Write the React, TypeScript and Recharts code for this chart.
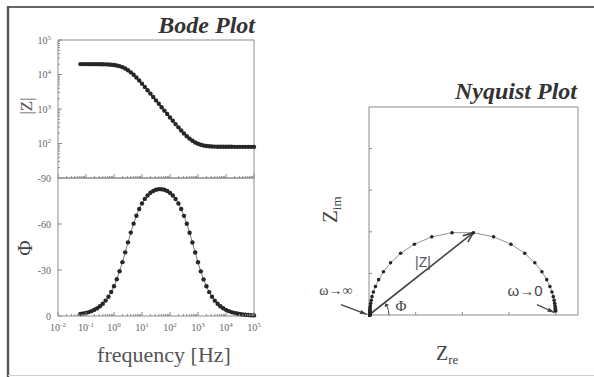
import React from "react";
import {
  LineChart,
  Line,
  XAxis,
  YAxis,
  ReferenceArea,
  ReferenceLine,
  ReferenceDot,
} from "recharts";

// values (one RC element, ~80 ohm series, ~20 kohm parallel)
const frequency = [
  0.0631, 0.0794, 0.1, 0.126, 0.158, 0.2, 0.251, 0.316, 0.398, 0.501,
  0.631, 0.794, 1, 1.26, 1.58, 2, 2.51, 3.16, 3.98, 5.01,
  6.31, 7.94, 10, 12.6, 15.8, 20, 25.1, 31.6, 39.8, 50.1,
  63.1, 79.4, 100, 126, 158, 200, 251, 316, 398, 501,
  631, 794, 1000, 1260, 1580, 2000, 2510, 3160, 3980, 5010,
  6310, 7940, 10000, 12600, 15800, 20000, 25100, 31600, 39800, 50100,
  63100, 79400, 100000,
];

const magnitude = [
  19995, 19992, 19987, 19980, 19969, 19950, 19921, 19875, 19803, 19691,
  19517, 19250, 18849, 18261, 17433, 16324, 14931, 13307, 11556, 9803,
  8157, 6688, 5426, 4370, 3503, 2798, 2232, 1777, 1415, 1126,
  896, 714, 569, 455, 365, 294, 238, 195, 163, 138,
  120, 107, 97.9, 91.7, 87.6, 84.8, 83.1, 82.0, 81.2, 80.8,
  80.5, 80.3, 80.2, 80.1, 80.1, 80.0, 80.0, 80.0, 80.0, 80.0,
  80.0, 80.0, 80.0,
];

const phase = [
  -1.28, -1.61, -2.02, -2.55, -3.21, -4.03, -5.07, -6.38, -8.01, -10.04,
  -12.57, -15.68, -19.45, -23.97, -29.22, -35.13, -41.51, -48.03, -54.38, -60.24,
  -65.42, -69.82, -73.45, -76.36, -78.63, -80.34, -81.56, -82.34, -82.72, -82.71,
  -82.33, -81.54, -80.31, -78.59, -76.3, -73.38, -69.74, -65.32, -60.13, -54.25,
  -47.9, -41.37, -35.01, -29.11, -23.87, -19.37, -15.6, -12.51, -10.0, -7.97,
  -6.35, -5.05, -4.01, -3.19, -2.53, -2.01, -1.6, -1.28, -1.01, -0.8,
  -0.64, -0.51, -0.4,
];

const zReal = [
  19990, 19984, 19975, 19960, 19937, 19901, 19843, 19752, 19610, 19389,
  19049, 18534, 17773, 16687, 15214, 13350, 11182, 8898, 6731, 4866,
  3393, 2307, 1546, 1031, 691, 470, 328, 237, 179, 143,
  120, 105, 96, 90, 86, 84, 83, 82, 81, 81,
  80, 80, 80, 80, 80, 80, 80, 80, 80, 80,
  80, 80, 80, 80, 80, 80, 80, 80, 80, 80,
  80, 80, 80,
];

const zImag = [
  446, 561, 706, 888, 1117, 1403, 1761, 2207, 2759, 3434,
  4247, 5201, 6278, 7418, 8511, 9394, 9894, 9894, 9394, 8511,
  7418, 6278, 5201, 4247, 3434, 2759, 2207, 1761, 1403, 1117,
  888, 706, 561, 446, 354, 281, 223, 178, 141, 112,
  89, 71, 56, 45, 35, 28, 22, 18, 14, 11,
  8.9, 7.1, 5.6, 4.5, 3.5, 2.8, 2.2, 1.8, 1.4, 1.1,
  0.9, 0.7, 0.6,
];

// tick labels
const freqExponents = [-2, -1, 0, 1, 2, 3, 4, 5];
const magExponents = [2, 3, 4, 5];
const phaseTicks = [0, -30, -60, -90];
const nyquistTicks = [5000, 10000, 15000, 20000];

const SERIF = "'Liberation Serif', 'DejaVu Serif', serif";
const SANS = "'Liberation Sans', 'DejaVu Sans', sans-serif";
const AXIS = "#8c8c8c";
const INK = "#262626";
const LABEL = "#666";

const bodeData = frequency.map((f, i) => ({ f, mag: magnitude[i], phase: phase[i] }));
const nyquistData = zReal.map((re, i) => ({ re, im: zImag[i] }));
const arrowTip = { x: zReal[16], y: zImag[16] };

const minorSteps = [2, 3, 4, 5, 6, 7, 8, 9];
const freqTicks = [
  ...freqExponents.map((e) => 10 ** e),
  ...freqExponents.slice(0, -1).flatMap((e) => minorSteps.map((k) => k * 10 ** e)),
].sort((a, b) => a - b);
const magTicks = [
  ...magExponents.map((e) => 10 ** e),
  ...[1, 2, 3, 4].flatMap((e) => minorSteps.map((k) => k * 10 ** e)),
].sort((a, b) => a - b);

const decade = (v: number) => Math.round(Math.log10(v));
const isDecade = (v: number) => Math.abs(Math.log10(v) - decade(v)) < 1e-6;

const FreqTick = (labels: boolean) => (props: any) => {
  const { x, y, payload } = props;
  const major = isDecade(payload.value);
  return (
    <g>
      <line x1={x} x2={x} y1={y} y2={y - (major ? 4 : 2)} stroke={AXIS} />
      {labels && major && (
        <text x={x} y={y + 14.5} textAnchor="middle" fontSize={10} fill={LABEL} fontFamily={SERIF}>
          10
          <tspan dy={-4} fontSize={7}>
            {decade(payload.value)}
          </tspan>
        </text>
      )}
    </g>
  );
};

const MagTick = (props: any) => {
  const { x, y, payload } = props;
  const major = isDecade(payload.value);
  return (
    <g>
      <line x1={x} x2={x + (major ? 4 : 2)} y1={y} y2={y} stroke={AXIS} />
      {major && (
        <text x={x - 7} y={y + 3.5} textAnchor="end" fontSize={10} fill={LABEL} fontFamily={SERIF}>
          10
          <tspan dy={-4} fontSize={7}>
            {decade(payload.value)}
          </tspan>
        </text>
      )}
    </g>
  );
};

const PhaseTick = (props: any) => {
  const { x, y, payload } = props;
  return (
    <g>
      <line x1={x} x2={x + 4} y1={y} y2={y} stroke={AXIS} />
      <text x={x - 7} y={y + 3.5} textAnchor="end" fontSize={10} fill={LABEL} fontFamily={SERIF}>
        {payload.value}
      </text>
    </g>
  );
};

const InnerXTick = (props: any) => (
  <line x1={props.x} x2={props.x} y1={props.y} y2={props.y - 3} stroke={AXIS} />
);
const InnerYTick = (props: any) => (
  <line x1={props.x} x2={props.x + 3} y1={props.y} y2={props.y} stroke={AXIS} />
);

const arrow = (open: boolean, width: number) => (p: any) => {
  const { x1, y1, x2, y2 } = p;
  const a = Math.atan2(y2 - y1, x2 - x1);
  const len = open ? 11 : 7;
  const spread = open ? 0.38 : 0.32;
  const h1 = [x2 - len * Math.cos(a - spread), y2 - len * Math.sin(a - spread)];
  const h2 = [x2 - len * Math.cos(a + spread), y2 - len * Math.sin(a + spread)];
  const pts = `${h1[0]},${h1[1]} ${x2},${y2} ${h2[0]},${h2[1]}`;
  return (
    <g>
      <line x1={x1} y1={y1} x2={x2} y2={y2} stroke="#444" strokeWidth={width} />
      {open ? (
        <polyline points={pts} fill="none" stroke="#444" strokeWidth={width} />
      ) : (
        <polygon points={pts} fill="#444" />
      )}
    </g>
  );
};

const label = (text: string, size: number, family: string, fill = "#444") => (p: any) => (
  <text
    x={p.cx}
    y={p.cy}
    textAnchor="middle"
    dominantBaseline="central"
    fontSize={size}
    fontFamily={family}
    fill={fill}
  >
    {text}
  </text>
);

const phiArc = (p: any) => {
  const { cx, cy } = p;
  const r = 20;
  const pt = (deg: number, rr = r) => [
    cx + rr * Math.cos((deg * Math.PI) / 180),
    cy - rr * Math.sin((deg * Math.PI) / 180),
  ];
  const end = pt(26);
  const tip = pt(36);
  const b1 = pt(26, r - 2.6);
  const b2 = pt(26, r + 2.6);
  return (
    <g>
      <path d={`M${cx + r},${cy} A${r},${r} 0 0 0 ${end[0]},${end[1]}`} fill="none" stroke="#444" strokeWidth={1} />
      <polygon points={`${b1[0]},${b1[1]} ${tip[0]},${tip[1]} ${b2[0]},${b2[1]}`} fill="#444" />
    </g>
  );
};

const dotStyle = { r: 2.2, fill: INK, stroke: "none" };

function BodeMagnitude() {
  return (
    <LineChart width={300} height={190} data={bodeData} margin={{ top: 40, right: 46, bottom: 11, left: 0 }}>
      <XAxis
        dataKey="f"
        type="number"
        scale="log"
        domain={[0.01, 100000]}
        ticks={freqTicks}
        interval={0}
        height={1}
        tickSize={0}
        tickMargin={0}
        axisLine={false}
        tickLine={false}
        tick={FreqTick(false)}
      />
      <YAxis
        type="number"
        scale="log"
        domain={[10, 100000]}
        ticks={magTicks}
        interval={0}
        width={58}
        tickSize={0}
        tickMargin={0}
        axisLine={false}
        tickLine={false}
        tick={MagTick}
      />
      <ReferenceArea x1={0.01} x2={100000} y1={10} y2={100000} fill="none" stroke={AXIS} ifOverflow="visible" />
      <Line
        dataKey="mag"
        type="linear"
        stroke="#333"
        strokeWidth={1.4}
        dot={dotStyle}
        activeDot={false}
        isAnimationActive={false}
      />
    </LineChart>
  );
}

function BodePhase() {
  return (
    <LineChart width={300} height={207} data={bodeData} margin={{ top: 8, right: 46, bottom: 31, left: 0 }}>
      <XAxis
        dataKey="f"
        type="number"
        scale="log"
        domain={[0.01, 100000]}
        ticks={freqTicks}
        interval={0}
        height={30}
        tickSize={0}
        tickMargin={0}
        axisLine={false}
        tickLine={false}
        tick={FreqTick(true)}
      />
      <YAxis
        type="number"
        domain={[-90, 0]}
        reversed
        ticks={phaseTicks}
        interval={0}
        width={58}
        tickSize={0}
        tickMargin={0}
        axisLine={false}
        tickLine={false}
        tick={PhaseTick}
      />
      <ReferenceArea x1={0.01} x2={100000} y1={-90} y2={0} fill="none" stroke={AXIS} ifOverflow="visible" />
      <Line
        dataKey="phase"
        type="linear"
        stroke="#555"
        strokeWidth={0.8}
        dot={dotStyle}
        activeDot={false}
        isAnimationActive={false}
      />
    </LineChart>
  );
}

function Nyquist() {
  return (
    <LineChart width={304} height={317} data={nyquistData} margin={{ top: 47, right: 16, bottom: 61, left: 0 }}>
      <XAxis
        dataKey="re"
        type="number"
        domain={[0, 22400]}
        ticks={nyquistTicks}
        interval={0}
        height={1}
        tickSize={0}
        tickMargin={0}
        axisLine={false}
        tickLine={false}
        tick={InnerXTick}
      />
      <YAxis
        type="number"
        domain={[0, 25000]}
        ticks={nyquistTicks}
        interval={0}
        width={79}
        tickSize={0}
        tickMargin={0}
        axisLine={false}
        tickLine={false}
        tick={InnerYTick}
      />
      <ReferenceArea x1={0} x2={22400} y1={0} y2={25000} fill="none" stroke={AXIS} ifOverflow="visible" />
      <Line
        dataKey="im"
        type="linear"
        stroke="#777"
        strokeWidth={0.8}
        dot={{ r: 1.8, fill: INK, stroke: "none" }}
        activeDot={false}
        isAnimationActive={false}
      />
      <ReferenceLine segment={[{ x: 0, y: 0 }, arrowTip]} ifOverflow="visible" shape={arrow(true, 1.6)} />
      <ReferenceLine
        segment={[{ x: -3000, y: 1250 }, { x: -250, y: 80 }]}
        ifOverflow="visible"
        shape={arrow(false, 1.2)}
      />
      <ReferenceLine
        segment={[{ x: 18000, y: 1250 }, { x: 19850, y: 300 }]}
        ifOverflow="visible"
        shape={arrow(false, 1.2)}
      />
      <ReferenceDot x={0} y={0} ifOverflow="visible" shape={phiArc} />
      <ReferenceDot x={5790} y={6400} ifOverflow="visible" shape={label("|Z|", 14, SANS, "#555")} />
      <ReferenceDot x={3430} y={1100} ifOverflow="visible" shape={label("Φ", 15, SERIF)} />
      <ReferenceDot x={-3540} y={2900} ifOverflow="visible" shape={label("ω→∞", 14, SERIF)} />
      <ReferenceDot x={16720} y={2900} ifOverflow="visible" shape={label("ω→0", 15, SANS)} />
    </LineChart>
  );
}

export default function App() {
  return (
    <div
      style={{
        position: "fixed",
        left: 0,
        top: 0,
        width: 594,
        height: 377,
        background: "#fff",
        overflow: "hidden",
      }}
    >
      <div style={{ position: "absolute", left: 0, top: 0 }}>
        <BodeMagnitude />
      </div>
      <div style={{ position: "absolute", left: 0, top: 170 }}>
        <BodePhase />
      </div>
      <div style={{ position: "absolute", left: 290, top: 60 }}>
        <Nyquist />
      </div>
      <svg width={594} height={377} style={{ position: "absolute", left: 0, top: 0, pointerEvents: "none" }}>
        <line x1={8} y1={7} x2={594} y2={7} stroke="#666" strokeWidth={2} />
        <line x1={8} y1={6} x2={8} y2={377} stroke="#555" strokeWidth={2.4} />
        <line x1={8} y1={375.5} x2={594} y2={375.5} stroke="#d0d0d0" strokeWidth={1} />
        <text x={255} y={33} textAnchor="end" fontSize={24} fontWeight="bold" fontStyle="italic" fontFamily={SERIF} fill="#333">
          Bode Plot
        </text>
        <text x={577} y={99} textAnchor="end" fontSize={24} fontWeight="bold" fontStyle="italic" fontFamily={SERIF} fill="#333">
          Nyquist Plot
        </text>
        <text x={32} y={106} transform="rotate(-90 32 106)" textAnchor="middle" fontSize={17} fontFamily={SERIF} fill="#555">
          |Z|
        </text>
        <text x={32} y={248} transform="rotate(-90 32 248)" textAnchor="middle" fontSize={21} fontFamily={SERIF} fill="#444">
          Φ
        </text>
        <text x={164} y={362} textAnchor="middle" fontSize={22} fontFamily={SERIF} fill="#555">
          frequency [Hz]
        </text>
        <text x={337} y={223} transform="rotate(-90 337 223)" fontSize={21} fontFamily={SERIF} fill="#444">
          Z
          <tspan fontSize={13} dy={4}>
            im
          </tspan>
        </text>
        <text x={436} y={360} fontSize={20} fontFamily={SERIF} fill="#444">
          Z
          <tspan fontSize={13} dy={4}>
            re
          </tspan>
        </text>
      </svg>
    </div>
  );
}
